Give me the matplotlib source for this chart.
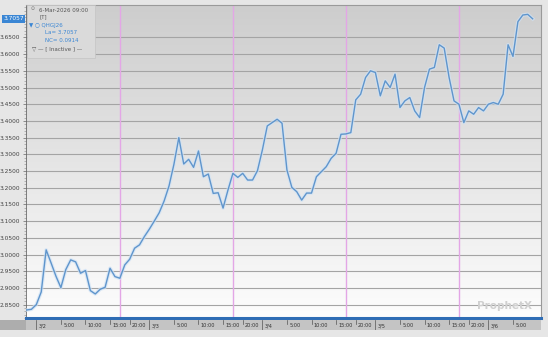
import matplotlib
matplotlib.use("Agg")
import matplotlib.pyplot as plt
import numpy as np
from matplotlib.colors import LinearSegmentedColormap
from matplotlib.patches import Rectangle

# ---------------- data (hourly bars, index 0 = 3/1 18:00, 23 bars per session) -------------
bar_index = list(range(4, 108))
prices = [
    2.834, 2.836, 2.850, 2.888, 3.014, 2.975, 2.935, 2.901, 2.955, 2.984,
    2.978, 2.944, 2.952, 2.892, 2.882, 2.896, 2.902, 2.959, 2.934, 2.929,
    2.969, 2.986, 3.019, 3.029, 3.054, 3.076, 3.100, 3.125, 3.160, 3.205,
    3.270, 3.350, 3.271, 3.285, 3.261, 3.310, 3.233, 3.241, 3.183, 3.185,
    3.139, 3.193, 3.243, 3.231, 3.243, 3.223, 3.223, 3.251, 3.313, 3.385,
    3.395, 3.405, 3.393, 3.253, 3.201, 3.188, 3.163, 3.184, 3.184, 3.233,
    3.248, 3.263, 3.288, 3.303, 3.360, 3.361, 3.365, 3.463, 3.480, 3.530,
    3.550, 3.545, 3.475, 3.520, 3.500, 3.540, 3.440, 3.460, 3.470, 3.430,
    3.410, 3.500, 3.555, 3.560, 3.628, 3.618, 3.530, 3.460, 3.450, 3.395,
    3.430, 3.420, 3.440, 3.430, 3.450, 3.455, 3.450, 3.480, 3.628, 3.593,
    3.697, 3.717, 3.719, 3.7057,
]
session_breaks = [23, 46, 69, 92]
xtick_positions = [6, 11, 16, 21, 25,
                   29, 34, 39, 44, 48,
                   52, 57, 62, 67, 71,
                   75, 80, 85, 90, 94,
                   98, 103]
xtick_labels = ["3/2", "5:00", "10:00", "15:00", "20:00",
                "3/3", "5:00", "10:00", "15:00", "20:00",
                "3/4", "5:00", "10:00", "15:00", "20:00",
                "3/5", "5:00", "10:00", "15:00", "20:00",
                "3/6", "5:00"]
day_ticks = [6, 29, 52, 75, 98]
ytick_values = [2.85, 2.90, 2.95, 3.00, 3.05, 3.10, 3.15, 3.20, 3.25, 3.30,
                3.35, 3.40, 3.45, 3.50, 3.55, 3.60, 3.65]
last_value = 3.7057
legend_lines = ["6-Mar-2026 09:00", "[T]", "\u25BC \u25CB QHGJ26", "La= 3.7057",
                "NC= 0.0914", "\u25BD \u2014 [ Inactive ] \u2014"]

# ---------------- layout ----------------
W, H = 548, 337
fig = plt.figure(figsize=(W / 100, H / 100), dpi=100)
fig.patch.set_facecolor("#e6e6e6")

def fx(px):
    return px / W

def fy(py):
    return 1 - py / H

XMIN, XMAX = 3.9, 108.7
YMIN, YMAX = 2.810, 3.747

ax = fig.add_axes([fx(26), fy(318), (541 - 26) / W, (318 - 5) / H])
ax.set_xlim(XMIN, XMAX)
ax.set_ylim(YMIN, YMAX)

# gradient background
cmap = LinearSegmentedColormap.from_list("bg", ["#fdfdfd", "#cdcdcd"])
grad = np.linspace(0, 1, 256).reshape(-1, 1)
ax.imshow(grad, extent=[XMIN, XMAX, YMIN, YMAX], origin="lower", aspect="auto",
          cmap=cmap, zorder=0, interpolation="bilinear")

# grid
ax.set_yticks(ytick_values)
ax.set_yticklabels([f"{v:.4f}" for v in ytick_values], fontsize=4.2, color="#444444")
ax.yaxis.set_minor_locator(matplotlib.ticker.MultipleLocator(0.01))
ax.tick_params(axis="y", which="major", length=2.5, width=0.5, color="#666666", pad=1.5)
ax.tick_params(axis="y", which="minor", length=1.2, width=0.4, color="#888888")
for v in ytick_values:
    ax.axhline(v, color="#a4a4a4", lw=0.8, zorder=1)
ax.set_xticks([])

# session breaks
for s in session_breaks:
    ax.axvline(s, color="#e3a6e6", lw=1.0, zorder=2)

# price line
ax.plot(bar_index, prices, color="#cfe2f5", lw=2.6, alpha=0.7, zorder=3,
        solid_joinstyle="round")
ax.plot(bar_index, prices, color="#5f95cc", lw=1.0, zorder=4, solid_joinstyle="round")

for side in ("top", "right"):
    ax.spines[side].set_color("#9a9a9a")
    ax.spines[side].set_linewidth(0.8)
ax.spines["left"].set_color("#6a6a6a")
ax.spines["left"].set_linewidth(0.6)
ax.spines["bottom"].set_color("#2f6db5")
ax.spines["bottom"].set_linewidth(2.2)

# last value marker
ax.text(-0.004, last_value, f"{last_value:.4f}", transform=ax.get_yaxis_transform(),
        ha="right", va="center", fontsize=4.2, color="white",
        bbox=dict(boxstyle="square,pad=0.25", fc="#3a86d4", ec="none"), zorder=10,
        clip_on=False)

# legend box
fig.patches.append(Rectangle((fx(27), fy(58)), (95 - 27) / W, (58 - 5) / H,
                             transform=fig.transFigure, fc="#dadada", ec="#c4c4c4",
                             lw=0.5, zorder=5))
fig.text(fx(31), fy(8), "\u2299", fontsize=3.5, color="#777777", va="center", zorder=6)
leg_pos = [(39, 11), (40, 17), (29, 25), (45, 33), (45, 41), (32, 49)]
leg_col = ["#555555", "#555555", "#3a86d4", "#3a86d4", "#3a86d4", "#555555"]
for (px, py), t, c in zip(leg_pos, legend_lines, leg_col):
    fig.text(fx(px), fy(py), t, fontsize=4.0, color=c, va="center", ha="left", zorder=6)

# watermark
fig.text(fx(505), fy(306), "ProphetX", fontsize=7.5, color="#d0d0d0", ha="center",
         va="center", fontweight="bold", zorder=6)

# time axis band
bx = fig.add_axes([fx(26), fy(330), (541 - 26) / W, (330 - 320) / H], sharex=ax)
bx.set_facecolor("#c4c4c4")
bx.set_ylim(0, 1)
bx.set_yticks([])
bx.set_xticks([])
for sp in bx.spines.values():
    sp.set_visible(False)
for p, lab in zip(xtick_positions, xtick_labels):
    long = p in day_ticks
    bx.plot([p, p], [1.0, 0.0 if long else 0.6], color="#555555", lw=0.5)
    bx.text(p + 0.45, 0.45, lab, fontsize=3.6, color="#333333", ha="left", va="center")

fig.patches.append(Rectangle((0, fy(330)), fx(26), (330 - 320) / H,
                             transform=fig.transFigure, fc="#adadad", ec="none"))

fig.savefig("out.png", dpi=100, facecolor=fig.get_facecolor())
